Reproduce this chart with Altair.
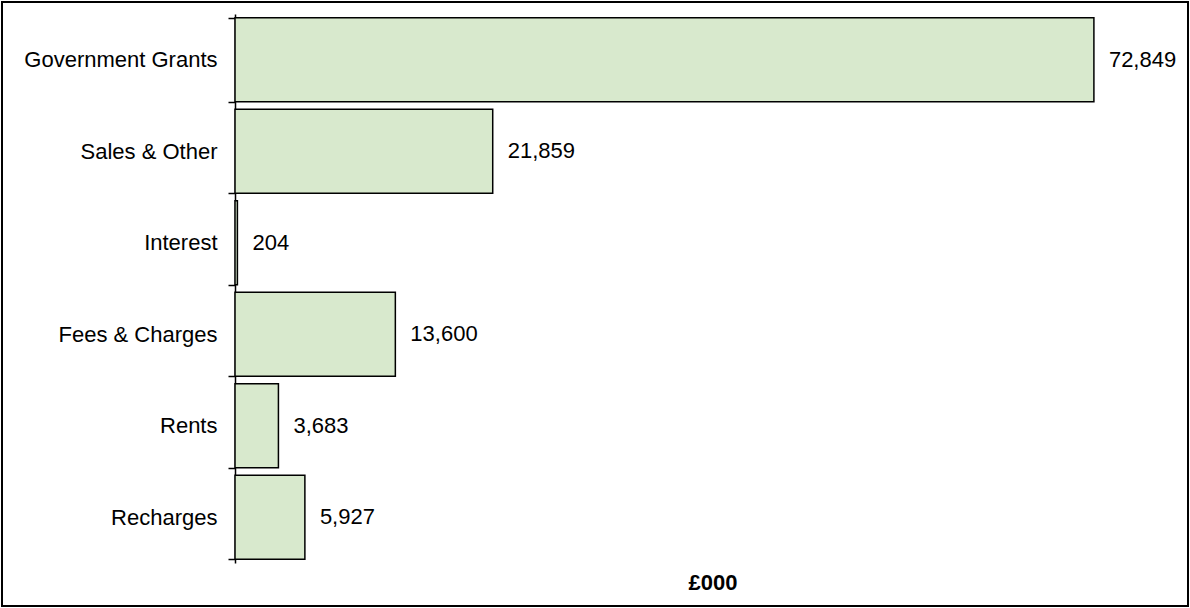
import altair as alt
import pandas as pd

categories = ["Government Grants", "Sales & Other", "Interest", "Fees & Charges", "Rents", "Recharges"]
values = [72849, 21859, 204, 13600, 3683, 5927]
value_labels = ["72,849", "21,859", "204", "13,600", "3,683", "5,927"]

df = pd.DataFrame({"cat": categories, "val": values, "lab": value_labels})

W, H = 955, 549
FONT = "Liberation Sans"
FS = 22

y = alt.Y(
    "cat:N",
    sort=categories,
    scale=alt.Scale(paddingInner=0.08, paddingOuter=0.04),
    axis=alt.Axis(
        title=None,
        tickBand="extent",
        tickSize=7,
        tickColor="black",
        tickWidth=1.5,
        domainColor="black",
        domainWidth=1.5,
        grid=False,
        labelFontSize=FS,
        labelFont=FONT,
        labelColor="black",
        labelPadding=11,
        labelLimit=0,
    ),
)
x = alt.X(
    "val:Q",
    scale=alt.Scale(domain=[0, 81000], nice=False),
    axis=alt.Axis(
        title="£000",
        labels=False,
        ticks=False,
        domain=False,
        grid=False,
        titleFontSize=FS,
        titleFont=FONT,
        titleFontWeight="bold",
        titleColor="black",
        titlePadding=9,
    ),
)

base = alt.Chart(df)
bars = base.mark_bar(fill="#d8e9cd", stroke="black", strokeWidth=1.5).encode(x=x, y=y)
text = base.mark_text(align="left", baseline="middle", dx=15, fontSize=FS, font=FONT, color="black").encode(
    x="val:Q", y=alt.Y("cat:N", sort=categories), text="lab:N"
)
frame = alt.Chart(pd.DataFrame({"a": [0]})).mark_rect(
    fillOpacity=0, stroke="black", strokeWidth=2
).encode(
    x=alt.value(-233), x2=alt.value(953), y=alt.value(-12), y2=alt.value(592)
)

chart = (
    alt.layer(bars, text, frame)
    .properties(
        width=W,
        height=H,
        background="white",
        autosize=alt.AutoSizeParams(type="none"),
        padding={"left": 235, "top": 14, "right": 0, "bottom": 45},
    )
    .configure_view(stroke="transparent", strokeWidth=0)
)

chart.save("out.html", embed_options={"renderer": "svg", "actions": False})
